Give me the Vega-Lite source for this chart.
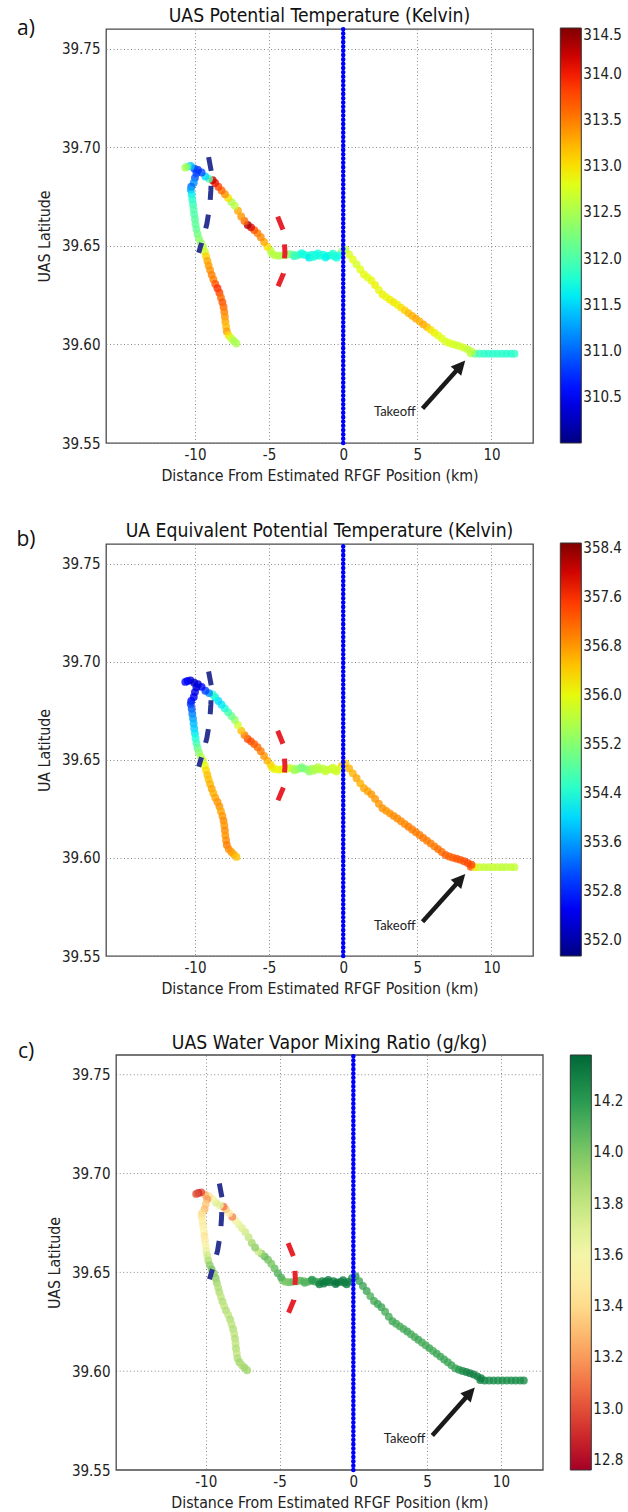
{
  "$schema": "https://vega.github.io/schema/vega-lite/v6.json",
  "padding": {"left": 15, "top": 6, "right": 0, "bottom": 0},
  "spacing": 37,
  "resolve": {"scale": {"color": "independent", "x": "independent", "y": "independent"}, "legend": {"color": "independent"}},
  "config": {
    "font": "DejaVu Sans Condensed, DejaVu Sans",
    "view": {"stroke": "#4a4a4a", "strokeWidth": 1.3},
    "axis": {"grid": true, "gridColor": "#8a8a8a", "gridDash": [1, 2.5], "gridWidth": 1, "domain": false, "ticks": false, "tickSize": 0, "labelFont": "DejaVu Sans Condensed, DejaVu Sans", "titleFont": "DejaVu Sans Condensed, DejaVu Sans", "labelFontSize": 15, "labelColor": "#222", "titleFontSize": 15.8, "titleFontWeight": "normal", "titleColor": "#222"},
    "axisX": {"labelPadding": 4, "titlePadding": 6},
    "axisY": {"labelPadding": 6, "titlePadding": 9},
    "title": {"fontSize": 19.2, "fontWeight": "normal", "color": "#111", "font": "DejaVu Sans Condensed, DejaVu Sans"},
    "legend": {"gradientThickness": 21, "gradientStrokeColor": "#333", "gradientStrokeWidth": 1, "labelFontSize": 15, "labelFont": "DejaVu Sans Condensed, DejaVu Sans", "labelOffset": 5, "labelColor": "#222", "labelBaseline": "middle", "labelOverlap": false, "direction": "vertical", "orient": "none"}
  },
  "datasets": {
    "track": [
      {"x":8.6,"lat":39.5955,"t":312.6,"te":357.2,"w":14.3},
      {"x":8.9,"lat":39.5953,"t":312.1,"te":356.2,"w":14.28},
      {"x":9.2,"lat":39.5953,"t":311.9,"te":355.8,"w":14.25},
      {"x":9.5,"lat":39.5953,"t":311.85,"te":355.7,"w":14.25},
      {"x":9.8,"lat":39.5953,"t":311.8,"te":355.7,"w":14.24},
      {"x":10.1,"lat":39.5953,"t":311.85,"te":355.75,"w":14.25},
      {"x":10.4,"lat":39.5953,"t":311.8,"te":355.7,"w":14.24},
      {"x":10.7,"lat":39.5953,"t":311.85,"te":355.7,"w":14.25},
      {"x":11.0,"lat":39.5953,"t":311.8,"te":355.65,"w":14.25},
      {"x":11.3,"lat":39.5953,"t":311.8,"te":355.7,"w":14.24},
      {"x":11.55,"lat":39.5953,"t":311.85,"te":355.7,"w":14.25},
      {"x":0.15,"lat":39.6481,"t":312.6,"te":356.4,"w":14.2},
      {"x":0.4,"lat":39.6456,"t":312.75,"te":356.6,"w":14.15},
      {"x":0.65,"lat":39.6431,"t":312.8,"te":356.6,"w":14.15},
      {"x":0.9,"lat":39.6406,"t":312.75,"te":356.7,"w":14.15},
      {"x":1.15,"lat":39.638,"t":312.8,"te":356.6,"w":14.1},
      {"x":1.4,"lat":39.6355,"t":312.85,"te":356.7,"w":14.12},
      {"x":1.65,"lat":39.634,"t":312.8,"te":356.7,"w":14.15},
      {"x":1.9,"lat":39.6324,"t":312.85,"te":356.8,"w":14.15},
      {"x":2.15,"lat":39.6301,"t":312.9,"te":356.8,"w":14.12},
      {"x":2.4,"lat":39.6276,"t":312.85,"te":356.8,"w":14.12},
      {"x":2.65,"lat":39.6253,"t":312.9,"te":356.85,"w":14.15},
      {"x":2.9,"lat":39.624,"t":312.85,"te":356.8,"w":14.12},
      {"x":3.15,"lat":39.6227,"t":312.9,"te":356.8,"w":14.12},
      {"x":3.4,"lat":39.6214,"t":312.95,"te":356.9,"w":14.12},
      {"x":3.65,"lat":39.6201,"t":312.9,"te":356.9,"w":14.15},
      {"x":3.9,"lat":39.6187,"t":313.0,"te":356.9,"w":14.12},
      {"x":4.15,"lat":39.6173,"t":313.1,"te":356.9,"w":14.12},
      {"x":4.4,"lat":39.6159,"t":313.2,"te":357.0,"w":14.15},
      {"x":4.65,"lat":39.6145,"t":313.25,"te":357.0,"w":14.12},
      {"x":4.9,"lat":39.6131,"t":313.3,"te":357.0,"w":14.12},
      {"x":5.15,"lat":39.6117,"t":313.25,"te":357.0,"w":14.15},
      {"x":5.4,"lat":39.6102,"t":313.3,"te":357.05,"w":14.12},
      {"x":5.65,"lat":39.6088,"t":313.2,"te":357.0,"w":14.15},
      {"x":5.9,"lat":39.6074,"t":313.0,"te":357.0,"w":14.15},
      {"x":6.15,"lat":39.6059,"t":312.9,"te":357.0,"w":14.15},
      {"x":6.4,"lat":39.6045,"t":312.85,"te":357.1,"w":14.15},
      {"x":6.65,"lat":39.603,"t":312.8,"te":357.1,"w":14.15},
      {"x":6.9,"lat":39.6015,"t":312.75,"te":357.2,"w":14.15},
      {"x":7.15,"lat":39.6007,"t":312.8,"te":357.2,"w":14.2},
      {"x":7.4,"lat":39.6001,"t":312.75,"te":357.2,"w":14.25},
      {"x":7.65,"lat":39.5996,"t":312.7,"te":357.3,"w":14.28},
      {"x":7.9,"lat":39.599,"t":312.75,"te":357.3,"w":14.3},
      {"x":8.15,"lat":39.5983,"t":312.7,"te":357.35,"w":14.3},
      {"x":8.4,"lat":39.5974,"t":312.65,"te":357.4,"w":14.3},
      {"x":8.65,"lat":39.5965,"t":312.6,"te":357.4,"w":14.3},
      {"x":-0.1,"lat":39.647,"t":312.4,"te":356.4,"w":14.2},
      {"x":-0.35,"lat":39.6452,"t":311.75,"te":355.9,"w":14.3},
      {"x":-0.6,"lat":39.6447,"t":311.7,"te":355.8,"w":14.3},
      {"x":-0.85,"lat":39.6452,"t":311.8,"te":355.7,"w":14.3},
      {"x":-1.1,"lat":39.6449,"t":311.65,"te":355.7,"w":14.32},
      {"x":-1.35,"lat":39.6455,"t":311.7,"te":355.7,"w":14.3},
      {"x":-1.6,"lat":39.645,"t":311.75,"te":355.6,"w":14.3},
      {"x":-1.85,"lat":39.6453,"t":311.65,"te":355.6,"w":14.32},
      {"x":-2.1,"lat":39.6455,"t":311.7,"te":355.5,"w":14.3},
      {"x":-2.35,"lat":39.645,"t":311.8,"te":355.3,"w":14.2},
      {"x":-2.6,"lat":39.6454,"t":311.75,"te":355.2,"w":14.15},
      {"x":-2.85,"lat":39.6457,"t":311.8,"te":355.1,"w":14.15},
      {"x":-3.1,"lat":39.6452,"t":311.85,"te":355.2,"w":14.1},
      {"x":-3.35,"lat":39.6455,"t":312.0,"te":355.5,"w":14.05},
      {"x":-3.6,"lat":39.6458,"t":312.2,"te":355.7,"w":14.1},
      {"x":-3.85,"lat":39.6455,"t":312.4,"te":355.9,"w":14.05},
      {"x":-4.1,"lat":39.6452,"t":312.5,"te":356.0,"w":14.0},
      {"x":-4.35,"lat":39.645,"t":312.5,"te":356.1,"w":14.05},
      {"x":-4.6,"lat":39.6452,"t":312.6,"te":356.0,"w":14.0},
      {"x":-4.8,"lat":39.646,"t":312.55,"te":356.1,"w":14.0},
      {"x":-2.8,"lat":39.6463,"t":311.7,"te":355.1,"w":14.2},
      {"x":-2.3,"lat":39.644,"t":311.6,"te":355.3,"w":14.3},
      {"x":-2.0,"lat":39.6444,"t":311.75,"te":355.5,"w":14.32},
      {"x":-1.7,"lat":39.6462,"t":311.7,"te":355.6,"w":14.3},
      {"x":-1.2,"lat":39.6441,"t":311.65,"te":355.7,"w":14.33},
      {"x":-0.7,"lat":39.646,"t":311.8,"te":355.8,"w":14.3},
      {"x":-0.45,"lat":39.644,"t":311.7,"te":355.8,"w":14.3},
      {"x":-3.3,"lat":39.6447,"t":311.9,"te":355.4,"w":14.1},
      {"x":-4.9,"lat":39.6475,"t":312.6,"te":356.3,"w":14.1},
      {"x":-5.12,"lat":39.6496,"t":313.0,"te":356.6,"w":14.1},
      {"x":-5.34,"lat":39.652,"t":313.3,"te":356.8,"w":14.05},
      {"x":-5.56,"lat":39.6544,"t":313.45,"te":357.0,"w":14.0},
      {"x":-5.78,"lat":39.6564,"t":313.5,"te":357.1,"w":14.0},
      {"x":-6.0,"lat":39.658,"t":313.7,"te":357.2,"w":14.05},
      {"x":-6.22,"lat":39.6594,"t":314.1,"te":357.3,"w":13.95},
      {"x":-6.44,"lat":39.6606,"t":314.3,"te":357.4,"w":13.75},
      {"x":-6.66,"lat":39.6626,"t":313.6,"te":357.0,"w":13.95},
      {"x":-6.88,"lat":39.6649,"t":313.4,"te":356.5,"w":13.9},
      {"x":-7.1,"lat":39.6678,"t":313.3,"te":355.8,"w":13.8},
      {"x":-7.32,"lat":39.6704,"t":312.6,"te":355.3,"w":13.75},
      {"x":-7.54,"lat":39.6723,"t":312.5,"te":355.0,"w":13.7},
      {"x":-7.76,"lat":39.6743,"t":313.0,"te":354.7,"w":13.65},
      {"x":-7.98,"lat":39.6762,"t":313.4,"te":354.4,"w":13.6},
      {"x":-8.2,"lat":39.6781,"t":313.6,"te":354.1,"w":13.15},
      {"x":-8.42,"lat":39.68,"t":313.8,"te":354.0,"w":13.5},
      {"x":-8.64,"lat":39.6819,"t":314.0,"te":354.2,"w":13.35},
      {"x":-8.8,"lat":39.6833,"t":314.2,"te":354.5,"w":13.1},
      {"x":-9.05,"lat":39.684,"t":312.0,"te":353.5,"w":13.65},
      {"x":-9.3,"lat":39.6852,"t":311.5,"te":353.0,"w":13.7},
      {"x":-9.55,"lat":39.6872,"t":310.9,"te":352.6,"w":13.6},
      {"x":-9.8,"lat":39.6885,"t":310.7,"te":352.3,"w":13.45},
      {"x":-10.05,"lat":39.6893,"t":310.9,"te":352.2,"w":13.3},
      {"x":-10.3,"lat":39.6905,"t":311.4,"te":352.2,"w":13.0},
      {"x":-10.5,"lat":39.6902,"t":312.0,"te":352.4,"w":12.9},
      {"x":-10.65,"lat":39.6897,"t":312.5,"te":352.6,"w":13.0},
      {"x":-9.9,"lat":39.687,"t":310.8,"te":352.3,"w":13.2},
      {"x":-10.0,"lat":39.6845,"t":310.9,"te":352.4,"w":13.35},
      {"x":-10.08,"lat":39.682,"t":311.2,"te":352.5,"w":13.3},
      {"x":-10.25,"lat":39.68,"t":311.0,"te":352.6,"w":13.4},
      {"x":-10.28,"lat":39.6785,"t":311.3,"te":352.8,"w":13.45},
      {"x":-10.22,"lat":39.676,"t":311.6,"te":353.1,"w":13.5},
      {"x":-10.18,"lat":39.6735,"t":311.8,"te":353.4,"w":13.5},
      {"x":-10.13,"lat":39.671,"t":311.9,"te":353.6,"w":13.55},
      {"x":-10.09,"lat":39.6685,"t":312.0,"te":353.8,"w":13.45},
      {"x":-10.05,"lat":39.666,"t":312.0,"te":353.9,"w":13.5},
      {"x":-10.0,"lat":39.6635,"t":312.05,"te":354.1,"w":13.55},
      {"x":-9.96,"lat":39.661,"t":312.1,"te":354.3,"w":13.65},
      {"x":-9.9,"lat":39.6585,"t":312.1,"te":354.6,"w":13.75},
      {"x":-9.83,"lat":39.656,"t":312.2,"te":354.9,"w":13.85},
      {"x":-9.73,"lat":39.6537,"t":312.3,"te":355.2,"w":13.95},
      {"x":-9.6,"lat":39.6515,"t":312.4,"te":355.5,"w":14.0},
      {"x":-9.45,"lat":39.6495,"t":312.6,"te":355.8,"w":13.95},
      {"x":-9.33,"lat":39.647,"t":312.7,"te":356.0,"w":13.95},
      {"x":-9.25,"lat":39.6447,"t":313.1,"te":356.3,"w":13.9},
      {"x":-9.16,"lat":39.6423,"t":313.3,"te":356.5,"w":13.85},
      {"x":-9.08,"lat":39.64,"t":313.35,"te":356.5,"w":13.85},
      {"x":-8.98,"lat":39.6377,"t":313.4,"te":356.6,"w":13.8},
      {"x":-8.87,"lat":39.6353,"t":313.5,"te":356.7,"w":13.85},
      {"x":-8.76,"lat":39.633,"t":313.5,"te":356.6,"w":13.8},
      {"x":-8.63,"lat":39.6307,"t":313.7,"te":356.7,"w":13.85},
      {"x":-8.48,"lat":39.6285,"t":313.9,"te":356.8,"w":13.8},
      {"x":-8.35,"lat":39.6262,"t":313.8,"te":356.8,"w":13.85},
      {"x":-8.25,"lat":39.6238,"t":313.6,"te":356.7,"w":13.8},
      {"x":-8.15,"lat":39.6214,"t":313.7,"te":356.8,"w":13.85},
      {"x":-8.07,"lat":39.619,"t":313.6,"te":356.9,"w":13.8},
      {"x":-8.02,"lat":39.6165,"t":313.5,"te":356.8,"w":13.85},
      {"x":-7.98,"lat":39.614,"t":313.4,"te":356.9,"w":13.8},
      {"x":-7.95,"lat":39.6115,"t":313.3,"te":356.8,"w":13.85},
      {"x":-7.9,"lat":39.609,"t":313.2,"te":356.9,"w":13.8},
      {"x":-7.85,"lat":39.6066,"t":313.35,"te":357.0,"w":13.85},
      {"x":-7.72,"lat":39.6045,"t":313.0,"te":356.9,"w":13.9},
      {"x":-7.55,"lat":39.603,"t":312.7,"te":356.8,"w":13.85},
      {"x":-7.38,"lat":39.6018,"t":312.5,"te":356.7,"w":13.9},
      {"x":-7.2,"lat":39.6005,"t":312.5,"te":356.5,"w":13.9}
    ],
    "zero": [{"x":0,"lat":39.55,"lat2":39.76}],
    "blue": [
      {"i":0,"x":-9.08,"lat":39.695},
      {"i":1,"x":-8.88,"lat":39.687},
      {"i":2,"x":-8.93,"lat":39.678},
      {"i":3,"x":-9.0,"lat":39.67},
      {"i":4,"x":-9.2,"lat":39.661},
      {"i":5,"x":-9.45,"lat":39.654},
      {"i":6,"x":-9.75,"lat":39.6465}
    ],
    "red": [
      {"i":0,"x":-4.42,"lat":39.6648},
      {"i":1,"x":-4.0,"lat":39.657},
      {"i":2,"x":-3.93,"lat":39.6465},
      {"i":3,"x":-4.03,"lat":39.636},
      {"i":4,"x":-4.42,"lat":39.629}
    ],
    "shaft": [{"x":5.35,"lat":39.5675,"x2":7.75,"lat2":39.5877}],
    "head": [{"x":8.23,"lat":39.5918}],
    "note": [{"x":4.88,"lat":39.5655,"txt":"Takeoff"}],
    "labA": [{"x":-21.4,"lat":39.7601,"txt":"a)"}],
    "labB": [{"x":-21.4,"lat":39.7619,"txt":"b)"}],
    "labC": [{"x":-22.18,"lat":39.7613,"txt":"c)"}],
    "frameC": [{"x":-16.07,"x2":12.85,"lat":39.55,"lat2":39.76}],
    "gridC": [
      {"x":-16.07,"x2":12.85,"lat":39.6},
      {"x":-16.07,"x2":12.85,"lat":39.65},
      {"x":-16.07,"x2":12.85,"lat":39.7},
      {"x":-16.07,"x2":12.85,"lat":39.75}
    ]
  },
  "vconcat": [
    {
      "width": 427, "height": 414,
      "title": {"text": "UAS Potential Temperature (Kelvin)", "offset": -8.4},
      "encoding": {
        "x": {"field":"x","type":"quantitative","scale":{"domain":[-16,12.8],"nice":false,"zero":false},"axis":{"values":[-10,-5,0,5,10],"labelExpr":"'' + datum.value","title":"Distance From Estimated RFGF Position (km)"}},
        "y": {"field":"lat","type":"quantitative","scale":{"domain":[39.55,39.76],"nice":false,"zero":false},"axis":{"values":[39.55,39.6,39.65,39.7,39.75],"format":".2f","title":"UAS Latitude"}}
      },
      "layer": [
        {"data":{"name":"track"},"mark":{"type":"circle","size":62,"fillOpacity":0.8},"encoding":{"color":{"field":"t","type":"quantitative","scale":{"domain":[310,314.5],"range":["#000080","#0000c8","#0000ff","#0040ff","#0080ff","#00c0ff","#15ffe2","#48ffaf","#7bff7b","#afff48","#e2ff15","#ffd200","#ff9700","#ff5c00","#ff2100","#c80000","#800000"]},"legend":{"title":null,"values":[310.5,311,311.5,312,312.5,313,313.5,314,314.5],"format":".1f","orient":"none","legendX":454.3,"legendY":-1,"gradientLength":415,"encode":{"gradient":{"update":{"opacity":{"value":1},"fillOpacity":{"value":1}}}}}}}},
        {"data":{"name":"zero"},"mark":{"type":"rule","color":"#0000ff","strokeWidth":1.5},"encoding":{"y2":{"field":"lat2"}}},
        {"data":{"name":"zero"},"mark":{"type":"rule","color":"#0000ff","strokeWidth":4.6,"strokeDash":[0.01,4.3],"strokeCap":"round"},"encoding":{"y2":{"field":"lat2"}}},
        {"data":{"name":"blue"},"mark":{"type":"line","color":"#2c3592","strokeWidth":5,"strokeDash":[14,15]},"encoding":{"order":{"field":"i","type":"quantitative"}}},
        {"data":{"name":"red"},"mark":{"type":"line","color":"#e8232b","strokeWidth":5,"strokeDash":[14,15]},"encoding":{"order":{"field":"i","type":"quantitative"}}},
        {"data":{"name":"shaft"},"mark":{"type":"rule","color":"#1a1a1a","strokeWidth":4.5},"encoding":{"x2":{"field":"x2"},"y2":{"field":"lat2"}}},
        {"data":{"name":"head"},"mark":{"type":"point","shape":"M0,0L1,2L-1,2Z","filled":true,"color":"#1a1a1a","opacity":1,"size":196,"angle":41.6,"strokeWidth":0}},
        {"data":{"name":"note"},"mark":{"type":"text","align":"right","baseline":"middle","font":"Lato","fontSize":13,"color":"#222"},"encoding":{"text":{"field":"txt","type":"nominal"}}},
        {"data":{"name":"labA"},"mark":{"type":"text","align":"center","baseline":"middle","font":"Open Sans","fontSize":21,"color":"#111"},"encoding":{"text":{"field":"txt","type":"nominal"}}}
      ]
    },
    {
      "width": 427, "height": 412,
      "title": {"text": "UA Equivalent Potential Temperature (Kelvin)", "offset": -12.3},
      "encoding": {
        "x": {"field":"x","type":"quantitative","scale":{"domain":[-16,12.8],"nice":false,"zero":false},"axis":{"values":[-10,-5,0,5,10],"labelExpr":"'' + datum.value","title":"Distance From Estimated RFGF Position (km)"}},
        "y": {"field":"lat","type":"quantitative","scale":{"domain":[39.55,39.76],"nice":false,"zero":false},"axis":{"values":[39.55,39.6,39.65,39.7,39.75],"format":".2f","title":"UA Latitude"}}
      },
      "layer": [
        {"data":{"name":"track"},"mark":{"type":"circle","size":62,"fillOpacity":0.8},"encoding":{"color":{"field":"te","type":"quantitative","scale":{"domain":[351.74,358.48],"range":["#000080","#0000c8","#0000ff","#0040ff","#0080ff","#00c0ff","#15ffe2","#48ffaf","#7bff7b","#afff48","#e2ff15","#ffd200","#ff9700","#ff5c00","#ff2100","#c80000","#800000"]},"legend":{"title":null,"values":[352.0,352.8,353.6,354.4,355.2,356.0,356.8,357.6,358.4],"format":".1f","orient":"none","legendX":454.3,"legendY":-1,"gradientLength":413,"encode":{"gradient":{"update":{"opacity":{"value":1},"fillOpacity":{"value":1}}}}}}}},
        {"data":{"name":"zero"},"mark":{"type":"rule","color":"#0000ff","strokeWidth":1.5},"encoding":{"y2":{"field":"lat2"}}},
        {"data":{"name":"zero"},"mark":{"type":"rule","color":"#0000ff","strokeWidth":4.6,"strokeDash":[0.01,4.3],"strokeCap":"round"},"encoding":{"y2":{"field":"lat2"}}},
        {"data":{"name":"blue"},"mark":{"type":"line","color":"#2c3592","strokeWidth":5,"strokeDash":[14,15]},"encoding":{"order":{"field":"i","type":"quantitative"}}},
        {"data":{"name":"red"},"mark":{"type":"line","color":"#e8232b","strokeWidth":5,"strokeDash":[14,15]},"encoding":{"order":{"field":"i","type":"quantitative"}}},
        {"data":{"name":"shaft"},"mark":{"type":"rule","color":"#1a1a1a","strokeWidth":4.5},"encoding":{"x2":{"field":"x2"},"y2":{"field":"lat2"}}},
        {"data":{"name":"head"},"mark":{"type":"point","shape":"M0,0L1,2L-1,2Z","filled":true,"color":"#1a1a1a","opacity":1,"size":196,"angle":41.6,"strokeWidth":0}},
        {"data":{"name":"note"},"mark":{"type":"text","align":"right","baseline":"middle","font":"Lato","fontSize":13,"color":"#222"},"encoding":{"text":{"field":"txt","type":"nominal"}}},
        {"data":{"name":"labB"},"mark":{"type":"text","align":"center","baseline":"middle","font":"Open Sans","fontSize":21,"color":"#111"},"encoding":{"text":{"field":"txt","type":"nominal"}}}
      ]
    },
    {
      "width": 437, "height": 415,
      "view": {"stroke": null},
      "title": {"text": "UAS Water Vapor Mixing Ratio (g/kg)", "offset": -12, "dx": 5},
      "encoding": {
        "x": {"field":"x","type":"quantitative","scale":{"domain":[-16.76,12.85],"nice":false,"zero":false},"axis":{"values":[-10,-5,0,5,10],"labelExpr":"'' + datum.value","title":"Distance From Estimated RFGF Position (km)","titleX":223.4}},
        "y": {"field":"lat","type":"quantitative","scale":{"domain":[39.55,39.76],"nice":false,"zero":false},"axis":{"values":[39.55,39.6,39.65,39.7,39.75],"format":".2f","title":"UAS Latitude","grid":false,"offset":-10}}
      },
      "layer": [
        {"data":{"name":"gridC"},"mark":{"type":"rule","color":"#8a8a8a","strokeWidth":1,"strokeDash":[1,2.5]},"encoding":{"x2":{"field":"x2"}}},
        {"data":{"name":"frameC"},"mark":{"type":"rect","fillOpacity":0,"stroke":"#4a4a4a","strokeWidth":1.3},"encoding":{"x2":{"field":"x2"},"y2":{"field":"lat2"}}},
        {"data":{"name":"track"},"mark":{"type":"circle","size":62,"fillOpacity":0.8},"encoding":{"color":{"field":"w","type":"quantitative","scale":{"domain":[12.76,14.38],"scheme":"redyellowgreen"},"legend":{"title":null,"values":[12.8,13.0,13.2,13.4,13.6,13.8,14.0,14.2],"format":".1f","orient":"none","legendX":464.3,"legendY":0,"gradientLength":415,"encode":{"gradient":{"update":{"opacity":{"value":1},"fillOpacity":{"value":1}}}}}}}},
        {"data":{"name":"zero"},"mark":{"type":"rule","color":"#0000ff","strokeWidth":1.5},"encoding":{"y2":{"field":"lat2"}}},
        {"data":{"name":"zero"},"mark":{"type":"rule","color":"#0000ff","strokeWidth":4.6,"strokeDash":[0.01,4.3],"strokeCap":"round"},"encoding":{"y2":{"field":"lat2"}}},
        {"data":{"name":"blue"},"mark":{"type":"line","color":"#2c3592","strokeWidth":5,"strokeDash":[14,15]},"encoding":{"order":{"field":"i","type":"quantitative"}}},
        {"data":{"name":"red"},"mark":{"type":"line","color":"#e8232b","strokeWidth":5,"strokeDash":[14,15]},"encoding":{"order":{"field":"i","type":"quantitative"}}},
        {"data":{"name":"shaft"},"mark":{"type":"rule","color":"#1a1a1a","strokeWidth":4.5},"encoding":{"x2":{"field":"x2"},"y2":{"field":"lat2"}}},
        {"data":{"name":"head"},"mark":{"type":"point","shape":"M0,0L1,2L-1,2Z","filled":true,"color":"#1a1a1a","opacity":1,"size":196,"angle":41.6,"strokeWidth":0}},
        {"data":{"name":"note"},"mark":{"type":"text","align":"right","baseline":"middle","font":"Lato","fontSize":13,"color":"#222"},"encoding":{"text":{"field":"txt","type":"nominal"}}},
        {"data":{"name":"labC"},"mark":{"type":"text","align":"center","baseline":"middle","font":"Open Sans","fontSize":21,"color":"#111"},"encoding":{"text":{"field":"txt","type":"nominal"}}}
      ]
    }
  ]
}
